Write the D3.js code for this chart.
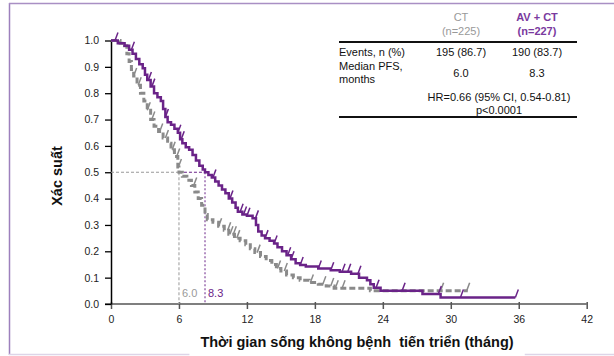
<!DOCTYPE html>
<html>
<head>
<meta charset="utf-8">
<script src="https://d3js.org/d3.v7.min.js"></script>
<style>
body { margin: 0; background: #fff; }
text { font-family: "Liberation Sans", Arial, sans-serif; }
.ct { fill: none; stroke: #8a8a8a; stroke-width: 3; stroke-dasharray: 6,3; }
.av { fill: none; stroke: #6a2388; stroke-width: 2.5; }
</style>
</head>
<body>
<div id="chart"></div>
<script>
// x ticks (months) and y ticks
const xTicks = [0, 6, 12, 18, 24, 30, 36, 42];
const yTicks = [0, 0.1, 0.2, 0.3, 0.4, 0.5, 0.6, 0.7, 0.8, 0.9, 1.0];

// CT arm: step times and survival after each step
const ctTime = [0, 0.8, 1.2, 1.4, 1.6, 1.8, 2.0, 2.3, 2.6, 2.9, 3.2, 3.5, 3.8, 4.2, 4.6, 5.0, 5.3, 5.6, 5.9, 6.0,
  6.3, 6.7, 7.1, 7.4, 7.7, 8.0, 8.3, 8.5, 9.0, 9.5, 10.0, 10.4, 10.9, 11.4, 11.9, 12.3, 12.7, 13.2, 13.7, 14.2,
  14.6, 15.0, 15.5, 16.1, 16.7, 17.5, 18.3, 19.0, 19.7, 22.9, 31.5];
const ctSurv = [1.0, 0.99, 0.98, 0.95, 0.92, 0.89, 0.865, 0.83, 0.80, 0.77, 0.735, 0.70, 0.675, 0.655, 0.63, 0.61, 0.585, 0.56, 0.52, 0.50,
  0.485, 0.47, 0.45, 0.425, 0.40, 0.375, 0.34, 0.32, 0.31, 0.295, 0.28, 0.265, 0.25, 0.24, 0.225, 0.21, 0.195, 0.18, 0.165, 0.15,
  0.135, 0.125, 0.11, 0.10, 0.09, 0.082, 0.075, 0.068, 0.06, 0.05, 0.05];
const ctCensor = [2.0, 2.4, 3.2, 3.6, 4.3, 4.8, 5.4, 5.8, 5.95, 7.3, 9.5, 10.3, 10.5, 10.8, 11.1, 12.9, 14.7, 15.3,
  17.6, 18.7, 19.4, 19.8, 20.4, 29.1, 31.4];

// AV + CT arm
const avTime = [0, 0.6, 1.2, 1.6, 1.9, 2.2, 2.5, 2.8, 3.0, 3.2, 3.5, 3.8, 4.1, 4.4, 4.6, 4.8, 5.0, 5.3, 5.6, 5.9,
  6.1, 6.3, 6.6, 6.9, 7.2, 7.5, 7.8, 8.1, 8.3, 8.6, 8.9, 9.2, 9.5, 9.8, 10.1, 10.4, 10.7, 11.0, 11.2, 11.6,
  12.0, 12.5, 12.8, 13.0, 13.3, 13.6, 14.0, 14.4, 14.7, 15.1, 15.5, 15.9, 16.3, 16.7, 17.2, 18.3, 19.4, 20.2,
  21.2, 21.9, 22.6, 22.9, 23.2, 23.8, 27.5, 29.1, 35.7];
const avSurv = [1.0, 0.99, 0.98, 0.965, 0.95, 0.93, 0.91, 0.895, 0.87, 0.85, 0.825, 0.80, 0.785, 0.77, 0.74, 0.71, 0.69, 0.68, 0.665, 0.65,
  0.625, 0.61, 0.595, 0.585, 0.565, 0.545, 0.525, 0.51, 0.50, 0.49, 0.48, 0.465, 0.45, 0.435, 0.42, 0.40, 0.385, 0.365, 0.35, 0.34,
  0.335, 0.325, 0.30, 0.275, 0.26, 0.25, 0.24, 0.23, 0.215, 0.20, 0.185, 0.17, 0.155, 0.148, 0.142, 0.135, 0.128, 0.122,
  0.115, 0.10, 0.09, 0.075, 0.062, 0.05, 0.038, 0.025, 0.025];
const avCensor = [0.35, 1.8, 3.3, 3.6, 4.8, 5.9, 6.2, 9.0, 10.5, 11.4, 11.7, 12.0, 12.75, 13.6, 14.4, 15.6, 15.9,
  16.7, 18.3, 19.4, 20.4, 20.9, 21.8, 23.4, 25.7, 28.9, 30.85, 35.7];

const medians = [6.0, 8.3];

// table text
const armNames = ["CT", "AV + CT"];
const armN = ["(n=225)", "(n=227)"];
const events = ["195 (86.7)", "190 (83.7)"];
const medianText = ["6.0", "8.3"];

const grey = "#8a8a8a", purple = "#6a2388";

const W = 614, H = 356;
const svg = d3.select("#chart").append("svg").attr("width", W).attr("height", H);

const x = d3.scaleLinear().domain([0, 42]).range([111, 586.7]);
const y = d3.scaleLinear().domain([0, 1]).range([304, 40.5]);

// frame
svg.append("line").attr("x1", 9.5).attr("x2", 9.5).attr("y1", 3).attr("y2", 355)
  .attr("stroke", "#9d80bd").attr("stroke-width", 1.5);
svg.append("line").attr("x1", 9).attr("x2", W).attr("y1", 3.5).attr("y2", 3.5)
  .attr("stroke", "#a98fc4").attr("stroke-width", 1.5);
svg.append("line").attr("x1", 9).attr("x2", W).attr("y1", 354.5).attr("y2", 354.5)
  .attr("stroke", "#ddd5e8").attr("stroke-width", 1.5);

// axes
const xAxis = svg.append("g").attr("transform", "translate(0,304)")
  .call(d3.axisBottom(x).tickValues(xTicks).tickSize(5).tickSizeOuter(0).tickPadding(7));
xAxis.select(".domain").attr("d", "M105,0H" + x(42)).attr("stroke", "#555").attr("stroke-width", 1.5);
xAxis.selectAll(".tick line").attr("stroke", "#555").attr("stroke-width", 1.5).attr("y1", -2);
xAxis.selectAll(".tick text").attr("font-size", 10.5).attr("fill", "#222")
  .style("font-family", "Liberation Sans, Arial, sans-serif");

const yAxis = svg.append("g").attr("transform", "translate(111,0)")
  .call(d3.axisLeft(y).tickValues(yTicks).tickFormat(d3.format(".1f")).tickSize(6).tickSizeOuter(0).tickPadding(6));
yAxis.select(".domain").attr("stroke", "#000").attr("stroke-width", 1.5);
yAxis.selectAll(".tick line").attr("stroke", "#000").attr("stroke-width", 1.3);
yAxis.selectAll(".tick text").attr("font-size", 10.5).attr("fill", "#222")
  .style("font-family", "Liberation Sans, Arial, sans-serif");

// median guides
const mSurv = 0.5;
svg.append("line").attr("x1", x(0)).attr("x2", x(medians[0])).attr("y1", y(mSurv)).attr("y2", y(mSurv))
  .attr("stroke", "#999").attr("stroke-width", 1.2).attr("stroke-dasharray", "3,2");
svg.append("line").attr("x1", x(medians[0])).attr("x2", x(medians[1])).attr("y1", y(mSurv)).attr("y2", y(mSurv))
  .attr("stroke", purple).attr("stroke-width", 1).attr("stroke-dasharray", "3,2");
svg.append("line").attr("x1", x(medians[0])).attr("x2", x(medians[0])).attr("y1", y(mSurv)).attr("y2", y(0))
  .attr("stroke", "#aaa").attr("stroke-width", 1.2).attr("stroke-dasharray", "3,2");
svg.append("line").attr("x1", x(medians[1])).attr("x2", x(medians[1])).attr("y1", y(mSurv)).attr("y2", y(0))
  .attr("stroke", purple).attr("stroke-width", 1).attr("stroke-dasharray", "2,2");
svg.append("text").attr("x", x(medians[0]) + 3).attr("y", y(0) - 7).attr("font-size", 11).attr("fill", "#999")
  .text(medianText[0]);
svg.append("text").attr("x", x(medians[1]) + 3).attr("y", y(0) - 7).attr("font-size", 11).attr("fill", purple)
  .text(medianText[1]);

// KM curves
const line = d3.line().curve(d3.curveStepAfter).x(d => x(d[0])).y(d => y(d[1]));
const ctData = ctTime.map((t, i) => [t, ctSurv[i]]);
const avData = avTime.map((t, i) => [t, avSurv[i]]);
svg.append("path").datum(ctData).attr("class", "ct").attr("d", line);
svg.append("path").datum(avData).attr("class", "av").attr("d", line);

function survAt(times, surv, t) {
  const i = d3.bisectRight(times, t) - 1;
  return surv[Math.max(0, i)];
}

svg.selectAll(".ctc").data(ctCensor).enter().append("line").attr("class", "ctc")
  .attr("x1", d => x(d)).attr("y1", d => y(survAt(ctTime, ctSurv, d)))
  .attr("x2", d => x(d) + 3).attr("y2", d => y(survAt(ctTime, ctSurv, d)) - 8)
  .attr("stroke", grey).attr("stroke-width", 1.5);
svg.selectAll(".avc").data(avCensor).enter().append("line").attr("class", "avc")
  .attr("x1", d => x(d)).attr("y1", d => y(survAt(avTime, avSurv, d)))
  .attr("x2", d => x(d) + 3).attr("y2", d => y(survAt(avTime, avSurv, d)) - 8)
  .attr("stroke", purple).attr("stroke-width", 1.5);

// axis titles
const xt = svg.append("text").attr("x", 357).attr("y", 347).attr("text-anchor", "middle")
  .attr("font-size", 14.5).attr("font-weight", "bold").attr("fill", "#111")
  .text("Thời gian sống không bệnh  tiến triển (tháng)");
xt.attr("xml:space", "preserve").style("white-space", "pre");
const bb = xt.node().getBBox();
svg.insert("rect", () => xt.node()).attr("x", bb.x - 11).attr("y", bb.y).attr("width", bb.width + 22).attr("height", bb.height + 10)
  .attr("fill", "#fff");

svg.append("text").attr("transform", "translate(62,176) rotate(-90)").attr("text-anchor", "middle")
  .attr("font-size", 14.5).attr("font-weight", "bold").attr("fill", "#111").text("Xác suất");

// results table
const colX = [461, 537];
const tbl = svg.append("g").attr("font-size", 11);
armNames.forEach((nm, i) => {
  const c = i === 0 ? "#999" : "#7a3a9e";
  const w = i === 0 ? "normal" : "bold";
  tbl.append("text").attr("x", colX[i]).attr("y", 21).attr("text-anchor", "middle")
    .attr("fill", c).attr("font-weight", w).text(nm);
  tbl.append("text").attr("x", colX[i]).attr("y", 35).attr("text-anchor", "middle")
    .attr("fill", c).attr("font-weight", w).text(armN[i]);
  tbl.append("text").attr("x", colX[i]).attr("y", 56).attr("text-anchor", "middle")
    .attr("fill", "#111").text(events[i]);
  tbl.append("text").attr("x", colX[i]).attr("y", 77).attr("text-anchor", "middle")
    .attr("fill", "#111").text(medianText[i]);
});
tbl.append("line").attr("x1", 339).attr("x2", 577).attr("y1", 42).attr("y2", 42).attr("stroke", "#111").attr("stroke-width", 2);
tbl.append("line").attr("x1", 339).attr("x2", 577).attr("y1", 117).attr("y2", 117).attr("stroke", "#111").attr("stroke-width", 2);
tbl.append("text").attr("x", 339).attr("y", 56).attr("fill", "#111").text("Events, n (%)");
tbl.append("text").attr("x", 339).attr("y", 70).attr("fill", "#111").text("Median PFS,");
tbl.append("text").attr("x", 339).attr("y", 83).attr("fill", "#111").text("months");
tbl.append("text").attr("x", 499).attr("y", 101).attr("text-anchor", "middle").attr("fill", "#111")
  .text("HR=0.66 (95% CI, 0.54-0.81)");
tbl.append("text").attr("x", 499).attr("y", 114).attr("text-anchor", "middle").attr("fill", "#111")
  .text("p<0.0001");
</script>
</body>
</html>
